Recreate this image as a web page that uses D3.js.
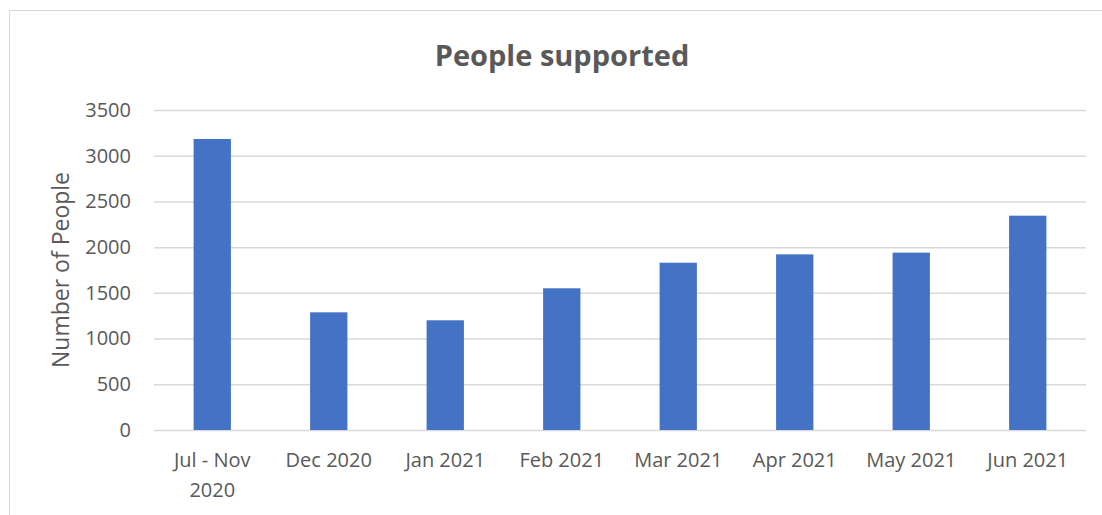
<!DOCTYPE html>
<html>
<head>
<meta charset="utf-8">
<script src="https://cdn.jsdelivr.net/npm/d3@7"></script>
<style>
  body { margin: 0; background: #fff; }
  text { font-family: "Open Sans", sans-serif; fill: #595959; }
</style>
</head>
<body>
<svg class="chart" width="1102" height="515"></svg>
<script>
// data
var categories = ["Jul - Nov 2020", "Dec 2020", "Jan 2021", "Feb 2021", "Mar 2021", "Apr 2021", "May 2021", "Jun 2021"];
var people = [3183, 1287, 1200, 1550, 1830, 1921, 1940, 2344];
var y_ticks = [0, 500, 1000, 1500, 2000, 2500, 3000, 3500];

var svg = d3.select("svg.chart");

// chart area border
svg.append("rect")
    .attr("x", 9.5).attr("y", 10.5)
    .attr("width", 1110).attr("height", 520)
    .attr("fill", "none")
    .attr("stroke", "#d9d9d9");

var plot_left = 154, plot_right = 1086, plot_top = 110, plot_bottom = 430;

var x = d3.scaleBand()
    .domain(categories)
    .range([plot_left, plot_right])
    .paddingInner(0.68)
    .paddingOuter(0.34);

var y = d3.scaleLinear().domain([0, 3500]).range([plot_bottom, plot_top]);

// gridlines + y labels
var yAxis = d3.axisLeft(y)
    .tickValues(y_ticks)
    .tickFormat(d3.format("d"))
    .tickSize(-(plot_right - plot_left))
    .tickPadding(23);

svg.append("g")
    .attr("transform", `translate(${plot_left},0)`)
    .call(yAxis)
    .call(g => g.select(".domain").remove())
    .call(g => g.selectAll(".tick line").attr("stroke", "#d9d9d9").attr("stroke-width", 1.5))
    .call(g => g.selectAll(".tick text")
        .attr("font-size", 20)
        .attr("fill", "#595959")
        .style("font-family", "Open Sans, sans-serif"));

// bars
svg.append("g")
    .selectAll("rect.bar")
    .data(categories)
    .enter()
    .append("rect")
        .attr("class", "bar")
        .attr("x", d => x(d))
        .attr("width", x.bandwidth())
        .attr("y", (d, i) => y(people[i]))
        .attr("height", (d, i) => y(0) - y(people[i]))
        .attr("fill", "#4472C4");

// x labels, wrap the first one like the original
var xlab = svg.append("g")
    .selectAll("text.xlab")
    .data(categories)
    .enter()
    .append("text")
        .attr("class", "xlab")
        .attr("text-anchor", "middle")
        .attr("font-size", 20)
        .attr("x", d => x(d) + x.bandwidth() / 2)
        .attr("y", 467);

xlab.each(function(d){
    var t = d3.select(this);
    var lines = d == "Jul - Nov 2020" ? ["Jul - Nov", "2020"] : [d];
    lines.forEach((l, k) => {
        t.append("tspan")
            .attr("x", x(d) + x.bandwidth() / 2)
            .attr("dy", k == 0 ? 0 : 30)
            .text(l);
    });
});

// axis title
svg.append("text")
    .attr("transform", "translate(69,270) rotate(-90)")
    .attr("text-anchor", "middle")
    .attr("font-size", 23)
    .text("Number of People");

// chart title
svg.append("text")
    .attr("x", 562)
    .attr("y", 66)
    .attr("text-anchor", "middle")
    .attr("font-size", 29)
    .attr("font-weight", "bold")
    .text("People supported");
</script>
</body>
</html>
